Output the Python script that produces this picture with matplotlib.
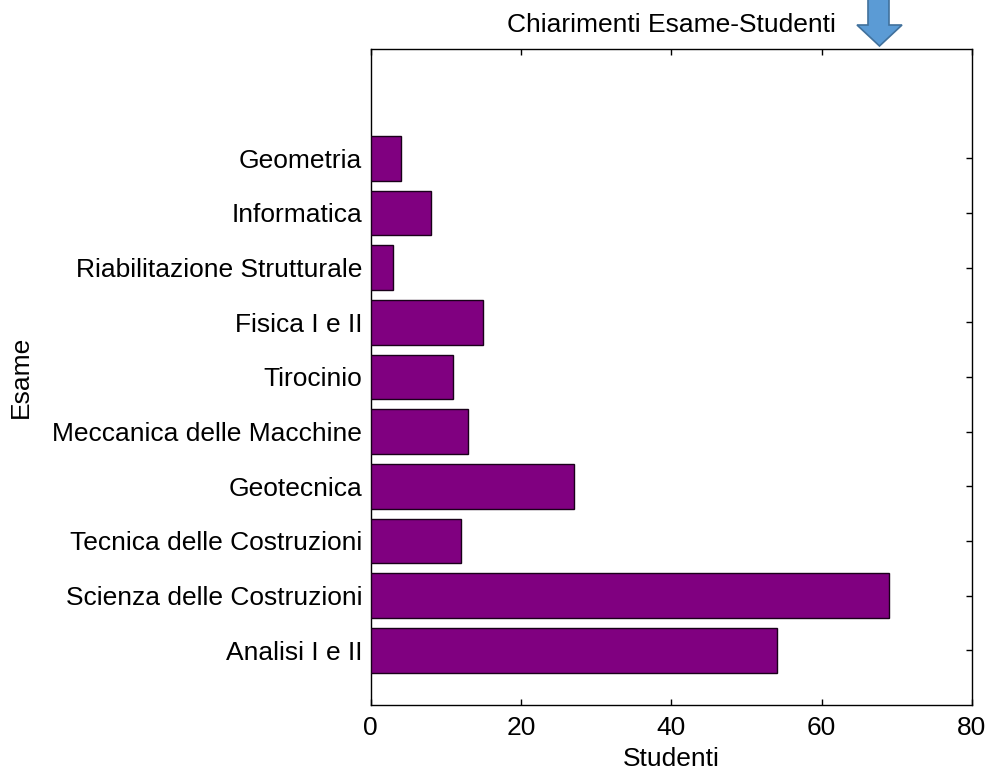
import matplotlib
matplotlib.use("Agg")
import matplotlib.pyplot as plt
from matplotlib.patches import Polygon

plt.rcParams['font.family'] = ['Liberation Sans', 'DejaVu Sans']

categories = ["Analisi I e II", "Scienza delle Costruzioni", "Tecnica delle Costruzioni",
              "Geotecnica", "Meccanica delle Macchine", "Tirocinio", "Fisica I e II",
              "Riabilitazione Strutturale", "Informatica", "Geometria"]
studenti = [54, 69, 12, 27, 13, 11, 15, 3, 8, 4]
xticks = [0, 20, 40, 60, 80]

W, H = 990, 778
fig = plt.figure(figsize=(W / 100, H / 100), dpi=100)
ax = fig.add_axes([370.7 / W, 1 - 705 / H, (972 - 370.7) / W, (705 - 49) / H])

pos = list(range(1, len(categories) + 1))
ax.barh(pos, studenti, height=0.82, color="#800080", edgecolor="#1a001a", linewidth=1.0, zorder=3)

ax.set_xlim(0, 80)
ax.set_ylim(0, 12)
ax.set_xticks(xticks)
ax.set_xticklabels([str(t) for t in xticks])
ax.set_yticks(pos)
ax.set_yticklabels(categories)

fs = 19
ax.tick_params(axis='both', direction='in', length=4.5, width=1.0, labelsize=fs,
               top=True, right=True, colors='black')
ax.tick_params(axis='x', pad=8)
ax.tick_params(axis='y', pad=6)
for s in ax.spines.values():
    s.set_linewidth(1.0)
    s.set_color('black')

ax.set_title("Chiarimenti Esame-Studenti", fontsize=fs, pad=12)
ax.set_xlabel("Studenti", fontsize=fs, labelpad=5)
ax.set_ylabel("Esame", fontsize=fs, labelpad=14)

# blue down arrow near the title
def fp(x, y):
    return (x / W, 1 - y / H)

arrow_pts = [fp(868, -2), fp(889, -2), fp(889, 25), fp(902, 25), fp(879.5, 46),
             fp(857, 25), fp(868, 25)]
fig.add_artist(Polygon(arrow_pts, closed=True, facecolor="#5B9BD5", edgecolor="#41719C",
                       linewidth=1.2, transform=fig.transFigure))

fig.savefig("out.png", dpi=100)
